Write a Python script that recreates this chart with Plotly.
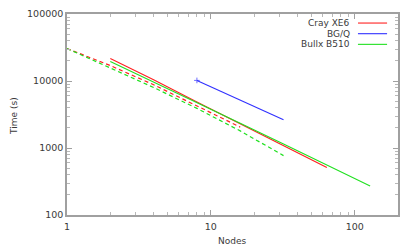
import plotly.graph_objects as go

# solid runs
cray_nodes = [2, 4, 8, 16, 32, 64]
cray_time = [21600, 10400, 4850, 2300, 1080, 513]
bgq_nodes = [8, 16, 32]
bgq_time = [10200, 5200, 2630]
bullx_nodes = [2, 4, 8, 16, 32, 64, 128]
bullx_time = [19500, 9700, 4800, 2350, 1150, 555, 270]

# dashed runs
cray_dash_nodes = [1, 2, 4, 8, 16]
cray_dash_time = [30500, 17000, 8800, 4300, 2050]
bullx_dash_nodes = [1, 2, 4, 8, 16, 32]
bullx_dash_time = [30500, 15800, 8000, 3900, 1800, 770]

x_ticks = [1, 10, 100]
y_ticks = [100, 1000, 10000, 100000]

RED = "#ff2020"
BLUE = "#3030ff"
GREEN = "#20e020"
FONT = "DejaVu Sans"
TXT = "#3a3a3a"

fig = go.Figure()
fig.add_trace(go.Scatter(x=cray_dash_nodes, y=cray_dash_time, mode="lines",
                         line=dict(color=RED, width=1.2, dash="4px,3px")))
fig.add_trace(go.Scatter(x=bullx_dash_nodes, y=bullx_dash_time, mode="lines",
                         line=dict(color=GREEN, width=1.2, dash="4px,3px")))
fig.add_trace(go.Scatter(x=cray_nodes, y=cray_time, mode="lines",
                         line=dict(color=RED, width=1.1)))
fig.add_trace(go.Scatter(x=bgq_nodes, y=bgq_time, mode="lines+markers",
                         line=dict(color=BLUE, width=1.1),
                         marker=dict(symbol="cross-thin", size=[4, 0, 0],
                                     line=dict(color=BLUE, width=1))))
fig.add_trace(go.Scatter(x=bullx_nodes, y=bullx_time, mode="lines",
                         line=dict(color=GREEN, width=1.1)))

# gnuplot style key: text right, sample line after it
legend = [("Cray XE6", RED), ("BG/Q", BLUE), ("Bullx B510", GREEN)]
for i, (name, col) in enumerate(legend):
    yy = 0.955 - i * 0.053
    fig.add_annotation(x=0.861, y=yy, xref="paper", yref="paper", text=name,
                       showarrow=False, xanchor="right", yanchor="middle",
                       font=dict(family=FONT, size=9, color=TXT))
    fig.add_shape(type="line", xref="paper", yref="paper", x0=0.879, x1=0.967,
                  y0=yy, y1=yy, line=dict(color=col, width=1.1))

fig.add_annotation(x=0.498, y=-0.13, xref="paper", yref="paper", text="Nodes",
                   showarrow=False, yanchor="middle",
                   font=dict(family=FONT, size=9, color=TXT))
fig.add_annotation(x=-0.16, y=0.493, xref="paper", yref="paper", text="Time (s)",
                   showarrow=False, textangle=-90, xanchor="center", yanchor="middle",
                   font=dict(family=FONT, size=9, color=TXT))

axis_common = dict(
    type="log", showline=True, linecolor="#a0a0a0", linewidth=1.5, mirror="ticks",
    ticks="inside", ticklen=5, tickcolor="#a0a0a0", tickwidth=1,
    showgrid=False, zeroline=False, automargin=False,
    tickfont=dict(family=FONT, size=9.5, color=TXT),
    minor=dict(ticks="inside", ticklen=3, tickcolor="#b8b8b8", showgrid=False,
               dtick="D1"),
)
fig.update_xaxes(**axis_common, range=[0, 2.301], tickvals=x_ticks,
                 ticktext=[str(v) for v in x_ticks], ticklabelstandoff=2)
fig.update_yaxes(**axis_common, range=[2, 5], tickvals=y_ticks,
                 ticktext=[str(v) for v in y_ticks])
# page body adds an 8px offset, so the figure is 8px smaller than the window
fig.update_layout(width=407, height=241, showlegend=False,
                  plot_bgcolor="white", paper_bgcolor="white",
                  margin=dict(l=59, r=17, t=6, b=34))
fig.write_html("out.html")
